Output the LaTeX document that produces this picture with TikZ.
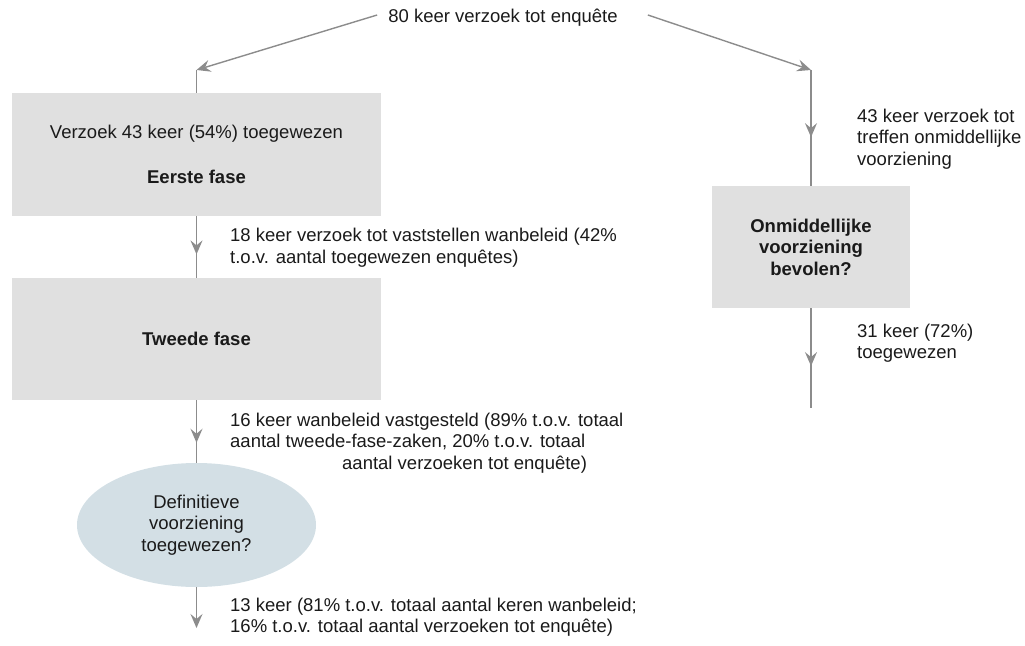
\documentclass[tikz,border=0pt]{standalone}
\usepackage{fontspec}
\setmainfont{Liberation Sans}
\usetikzlibrary{arrows.meta,decorations.markings,shapes.geometric}
\definecolor{linegray}{HTML}{8C8C8C}
\definecolor{boxgray}{HTML}{E0E0E0}
\definecolor{ellblue}{HTML}{D3DFE5}
\definecolor{txt}{HTML}{1A1A1A}
\tikzset{
  conn/.style={draw=linegray, line width=1.4pt},
  endtip/.style={-{Stealth[length=14pt,width=12pt,inset=5pt]}},
  midtip/.style={postaction={decorate}, decoration={markings, mark=at position #1 with {\arrow[linegray]{Stealth[length=14pt,width=12pt,inset=5pt]}}}},
  box/.style={fill=boxgray, inner sep=0pt, align=center},
  ell/.style={ellipse, fill=ellblue, inner sep=0pt, align=center},
  lbl/.style={align=left, inner sep=0pt, anchor=west}
}
\begin{document}
\begin{tikzpicture}[x=1pt,y=-1pt, font=\fontsize{18.5}{21.5}\selectfont, text=txt]
\useasboundingbox (0,0) rectangle (1025,645);
\node[inner sep=0pt] (top) at (503,18) {80 keer verzoek tot enquête};
\coordinate (cl) at (196.5,70);
\coordinate (cr) at (811,70);
\node[box, minimum width=369pt, minimum height=123pt] (b1) at (196.5,154.5) {Verzoek 43 keer (54\%) toegewezen\\[23pt]\textbf{Eerste fase}};
\node[box, minimum width=369pt, minimum height=122pt, font=\fontsize{18.5}{21.5}\selectfont\bfseries] (b2) at (196.5,339) {Tweede fase};
\node[ell, minimum width=239pt, minimum height=124pt] (e) at (196.5,525) {Definitieve\\voorziening\\toegewezen?};
\node[box, minimum width=198pt, minimum height=122pt, font=\fontsize{18.5}{21.5}\selectfont\bfseries] (b3) at (811,247) {Onmiddellijke\\voorziening\\bevolen?};
\coordinate (eend) at (196.5,628);
\coordinate (rend) at (811,408);
\draw[conn, endtip] ([xshift=-11pt,yshift=3pt]top.west) -- (cl);
\draw[conn] (cl) -- (b1.north);
\draw[conn, endtip] ([xshift=30pt,yshift=3pt]top.east) -- (cr);
\draw[conn, midtip=0.58] (cr) -- (b3.north);
\draw[conn, midtip=0.62] (b1.south) -- (b2.north);
\draw[conn, midtip=0.68] (b2.south) -- (e.north);
\draw[conn, endtip] (e.south) -- (eend);
\draw[conn, midtip=0.58] (b3.south) -- (rend);
\node[lbl] (l1) at (230,247.5) {18 keer verzoek tot vaststellen wanbeleid (42\%\\t.o.v. aantal toegewezen enquêtes)};
\node[lbl] (l2) at (230,443) {16 keer wanbeleid vastgesteld (89\% t.o.v. totaal\\aantal tweede-fase-zaken, 20\% t.o.v. totaal\\\hspace*{112pt}aantal verzoeken tot enquête)};
\node[lbl] (l3) at (230,617) {13 keer (81\% t.o.v. totaal aantal keren wanbeleid;\\16\% t.o.v. totaal aantal verzoeken tot enquête)};
\node[lbl] (l4) at (857,139) {43 keer verzoek tot\\treffen onmiddellijke\\voorziening};
\node[lbl] (l5) at (857,343) {31 keer (72\%)\\toegewezen};
\end{tikzpicture}
\end{document}
